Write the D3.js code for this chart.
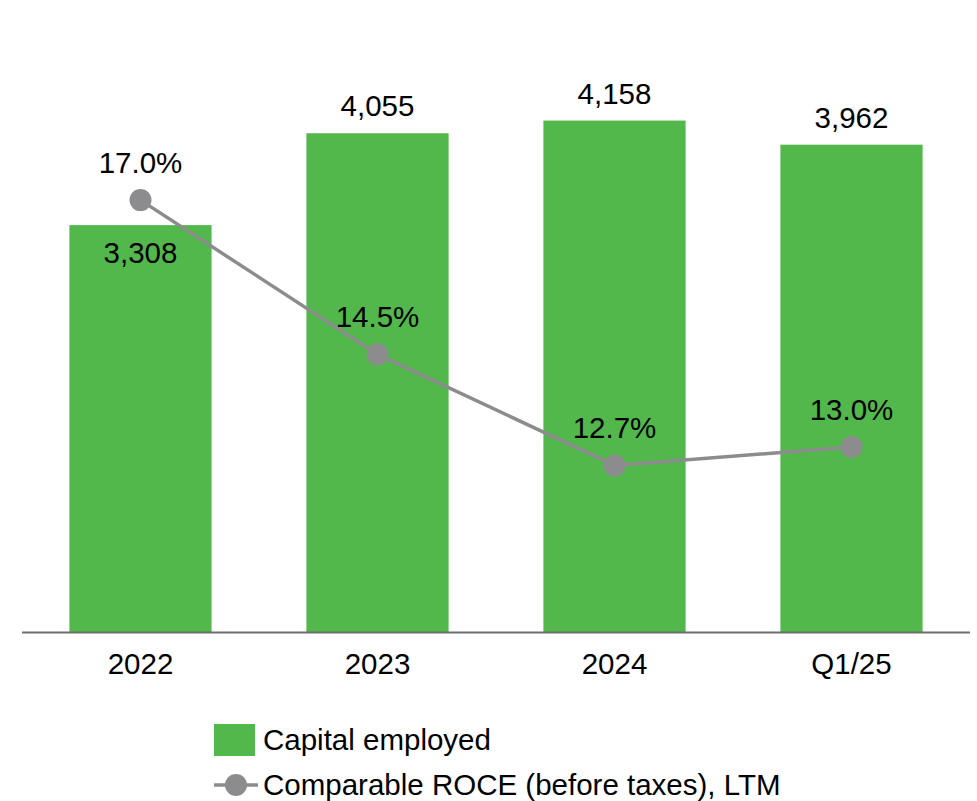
<!DOCTYPE html>
<html>
<head>
<meta charset="utf-8">
<script src="https://cdn.jsdelivr.net/npm/d3@7"></script>
<style>
  html, body { margin: 0; padding: 0; background: #fff; }
  svg text { font-family: "Liberation Sans", Arial, sans-serif; fill: #000; }
</style>
</head>
<body>
<svg id="chart" width="977" height="801"></svg>
<script>
// Capital employed (EUR million) and comparable ROCE (%)
const categories = ["2022", "2023", "2024", "Q1/25"];
const capitalEmployed = [3308, 4055, 4158, 3962];
const capitalLabels = ["3,308", "4,055", "4,158", "3,962"];
const roce = [17.0, 14.5, 12.7, 13.0];
const roceLabels = ["17.0%", "14.5%", "12.7%", "13.0%"];
const legendLabels = ["Capital employed", "Comparable ROCE (before taxes), LTM"];

const green = "#52b84b";
const grey = "#8c8c8e";
const labelSize = 29.5;
const legendSize = 29.5;

const svg = d3.select("#chart");
const baseY = 632;
const topY = 17;

const x = d3.scaleBand()
  .domain(categories)
  .range([22, 970])
  .paddingInner(0.4)
  .paddingOuter(0.2);

const yBar = d3.scaleLinear().domain([0, 5000]).range([baseY, topY]);
const yLine = d3.scaleLinear().domain([10, 20]).range([baseY, 15]);

// Bars
svg.append("g").selectAll("rect")
  .data(capitalEmployed)
  .join("rect")
  .attr("x", (d, i) => x(categories[i]))
  .attr("y", d => yBar(d))
  .attr("width", x.bandwidth())
  .attr("height", d => baseY - yBar(d))
  .attr("fill", green);

// Bar value labels (first one sits inside the bar, below the ROCE marker)
svg.append("g").selectAll("text")
  .data(capitalEmployed)
  .join("text")
  .attr("x", (d, i) => x(categories[i]) + x.bandwidth() / 2)
  .attr("y", (d, i) => i === 0 ? yBar(d) + 38 : yBar(d) - 17)
  .attr("text-anchor", "middle")
  .attr("font-size", labelSize)
  .text((d, i) => capitalLabels[i]);

// X axis
const xAxis = svg.append("g")
  .attr("transform", `translate(0,${baseY})`)
  .call(d3.axisBottom(x).tickSize(0).tickPadding(0));
xAxis.select(".domain").attr("d", "M22,0.5H970").attr("stroke", "#6f6f6f").attr("stroke-width", 2);
xAxis.selectAll(".tick text")
  .attr("font-size", labelSize)
  .attr("dy", null)
  .attr("y", 42)
  .attr("fill", "#000")
  .style("font-family", "'Liberation Sans', Arial, sans-serif");

// ROCE line
const cx = (d, i) => x(categories[i]) + x.bandwidth() / 2;
const line = d3.line().x(cx).y(d => yLine(d));
svg.append("path")
  .datum(roce)
  .attr("d", line)
  .attr("fill", "none")
  .attr("stroke", grey)
  .attr("stroke-width", 3.5);

svg.append("g").selectAll("circle")
  .data(roce)
  .join("circle")
  .attr("cx", cx)
  .attr("cy", d => yLine(d))
  .attr("r", 11)
  .attr("fill", grey);

svg.append("g").selectAll("text")
  .data(roce)
  .join("text")
  .attr("x", cx)
  .attr("y", d => yLine(d) - 27)
  .attr("text-anchor", "middle")
  .attr("font-size", labelSize)
  .text((d, i) => roceLabels[i]);

// Legend
const legend = svg.append("g");
legend.append("rect")
  .attr("x", 214).attr("y", 724).attr("width", 41).attr("height", 32)
  .attr("fill", green);
legend.append("text")
  .attr("x", 263).attr("y", 750)
  .attr("font-size", legendSize)
  .text(legendLabels[0]);
legend.append("line")
  .attr("x1", 214).attr("x2", 258).attr("y1", 785).attr("y2", 785)
  .attr("stroke", grey).attr("stroke-width", 3.5);
legend.append("circle")
  .attr("cx", 236).attr("cy", 785).attr("r", 11)
  .attr("fill", grey);
legend.append("text")
  .attr("x", 263).attr("y", 795)
  .attr("font-size", legendSize)
  .text(legendLabels[1]);
</script>
</body>
</html>
